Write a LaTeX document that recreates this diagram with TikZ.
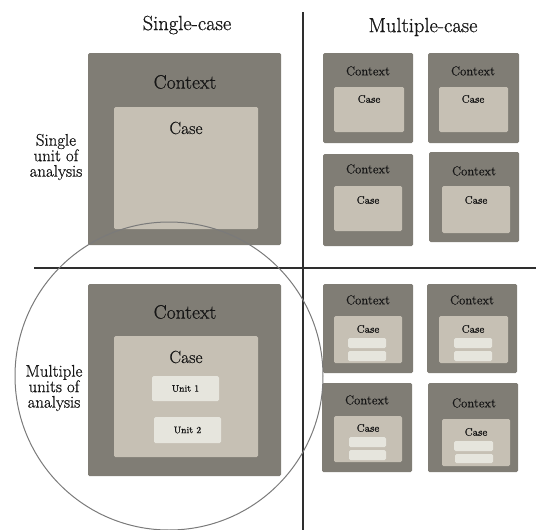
\documentclass[tikz,border=0pt]{standalone}
\usepackage{fontspec}
\setmainfont{Latin Modern Roman}[FakeBold=0.7]
\definecolor{ctxgray}{HTML}{807D75}
\definecolor{casegray}{HTML}{C6C0B4}
\definecolor{unitgray}{HTML}{E6E5DD}
\definecolor{inkdark}{HTML}{161616}
\definecolor{axisdark}{HTML}{2E2E2E}
\definecolor{ringgray}{HTML}{7A7A7A}
\newcommand\fs[1]{\fontsize{#1}{#1}\selectfont}
\newcommand\fsl[2]{\fontsize{#1}{#2}\selectfont}
% panel: style, name, x1, y1, x2, y2 (y grows downwards)
\newcommand\panel[6]{%
  \node[#1, anchor=north west, minimum width={(#5)-(#3)}, minimum height={(#6)-(#4)}] (#2) at (#3,#4) {};}
\tikzset{
  ctxbox/.style={fill=ctxgray, rounded corners=1.5pt, inner sep=0pt, outer sep=0pt, draw=none},
  casebox/.style={fill=casegray, rounded corners=1.5pt, inner sep=0pt, outer sep=0pt, draw=none},
  unitbox/.style={fill=unitgray, rounded corners=1.5pt, inner sep=0pt, outer sep=0pt, draw=none},
  head/.style={text=inkdark, font=\fs{20.5}, inner sep=0pt},
  side/.style={text=inkdark, font=\fsl{16.8}{15.5}, align=center, inner sep=0pt},
  bigctx/.style={text=inkdark, font=\fs{19.5}, inner sep=0pt},
  bigcase/.style={text=inkdark, font=\fs{17.5}, inner sep=0pt},
  smallctx/.style={text=inkdark, font=\fs{12.8}, inner sep=0pt},
  smallcase/.style={text=inkdark, font=\fs{11}, inner sep=0pt},
  unitlabel/.style={text=inkdark, font=\fs{9.5}, inner sep=0pt},
  axis/.style={draw=axisdark, line width=2pt},
  ring/.style={draw=ringgray, line width=1pt}
}
\begin{document}
\begin{tikzpicture}[x=1pt, y=-1pt]
\useasboundingbox (0,0) rectangle (536,530);

% column and row headings
\node[head] (hsingle) at (187,25) {Single-case};
\node[head] (hmulti) at (423,27) {Multiple-case};
\node[side] (rsingle) at (56,157) {Single\\unit of\\analysis};
\node[side] (rmulti) at (54,388) {Multiple\\units of\\analysis};

% single case, single unit
\panel{ctxbox}{sa}{88}{53}{281}{245}
\panel{casebox}{sac}{114}{107}{258}{229}
\node[bigctx] (saT) at (185,82) {Context};
\node[bigcase] (sacT) at (186,128) {Case};

% single case, multiple units
\panel{ctxbox}{sb}{88}{284}{281}{476}
\panel{casebox}{sbc}{114}{336}{258}{457}
\node[bigctx] (sbT) at (185,312) {Context};
\node[bigcase] (sbcT) at (186,357) {Case};
\panel{unitbox}{u1}{152}{376}{219}{401}
\panel{unitbox}{u2}{154}{417}{221}{443}
\node[unitlabel] at (u1) {Unit 1};
\node[unitlabel] at (u2) {Unit 2};

% multiple cases, single unit
\panel{ctxbox}{m1}{323}{53}{413}{143}
\panel{casebox}{m1c}{334}{87}{404}{132}
\node[smallctx] at (368,71) {Context};
\node[smallcase] at (369,99) {Case};

\panel{ctxbox}{m2}{428}{53}{519}{143}
\panel{casebox}{m2c}{439}{87}{508}{132}
\node[smallctx] at (473,71) {Context};
\node[smallcase] at (473,99) {Case};

\panel{ctxbox}{m3}{323}{154}{413}{246}
\panel{casebox}{m3c}{334}{186}{402}{231}
\node[smallctx] at (368,169) {Context};
\node[smallcase] at (368,200) {Case};

\panel{ctxbox}{m4}{429}{152}{519}{242}
\panel{casebox}{m4c}{442}{186}{510}{233}
\node[smallctx] at (474,171) {Context};
\node[smallcase] at (476,200) {Case};

% multiple cases, multiple units
\panel{ctxbox}{n1}{323}{284}{413}{373}
\panel{casebox}{n1c}{334}{316}{402}{363}
\node[smallctx] at (368,300) {Context};
\node[smallcase] at (368,329) {Case};
\panel{unitbox}{n1a}{348}{338}{386}{348}
\panel{unitbox}{n1b}{348}{351}{386}{361}

\panel{ctxbox}{n2}{427}{284}{517}{373}
\panel{casebox}{n2c}{439}{316}{508}{363}
\node[smallctx] at (472,300) {Context};
\node[smallcase] at (473,329) {Case};
\panel{unitbox}{n2a}{454}{338}{492}{348}
\panel{unitbox}{n2b}{454}{351}{492}{361}

\panel{ctxbox}{n3}{322}{383}{412}{472}
\panel{casebox}{n3c}{334}{416}{402}{462}
\node[smallctx] at (367,400) {Context};
\node[smallcase] at (368,428) {Case};
\panel{unitbox}{n3a}{349}{437}{386}{447}
\panel{unitbox}{n3b}{349}{450}{386}{460}

\panel{ctxbox}{n4}{428}{383}{518}{472}
\panel{casebox}{n4c}{442}{419}{510}{466}
\node[smallctx] at (474,403) {Context};
\node[smallcase] at (476,432) {Case};
\panel{unitbox}{n4a}{454}{441}{493}{451}
\panel{unitbox}{n4b}{455}{454}{493}{463}

% quadrant axes
\coordinate (vtop) at (303,12);
\coordinate (vbot) at (303,530);
\coordinate (hleft) at (34,268);
\coordinate (hright) at (536,268);
\draw[axis] (vtop) -- (vbot);
\draw[axis] (hleft) -- (hright);

% highlight ring round the embedded single-case design
\coordinate (ringc) at (169,376);
\draw[ring] (ringc) circle[radius=154];
\end{tikzpicture}
\end{document}
